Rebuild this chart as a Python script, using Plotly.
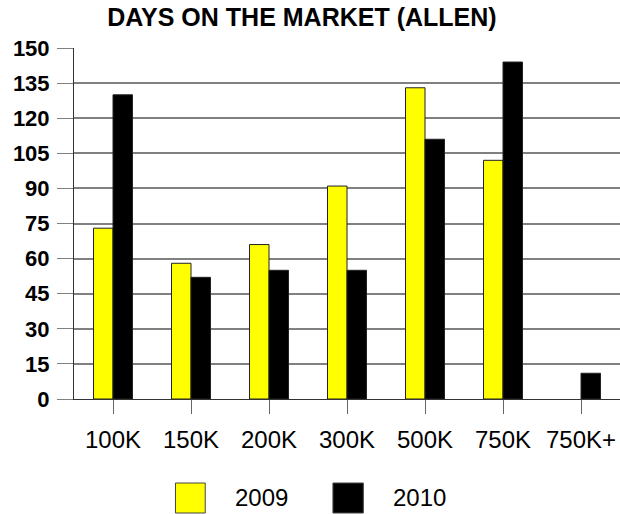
import plotly.graph_objects as go

categories = ["100K", "150K", "200K", "300K", "500K", "750K", "750K+"]
days_2009 = [73, 58, 66, 91, 133, 102, None]
days_2010 = [130, 52, 55, 55, 111, 144, 11]
y_ticks = [0, 15, 30, 45, 60, 75, 90, 105, 120, 135, 150]
series_names = ["2009", "2010"]
series_colors = ["#FFFF00", "#000000"]

FONT = "Liberation Sans, Arial, sans-serif"

fig = go.Figure()
for name, vals, col in zip(series_names, [days_2009, days_2010], series_colors):
    fig.add_trace(go.Bar(
        x=categories, y=vals, name=name,
        marker=dict(color=col, line=dict(color="#222222", width=1)),
        showlegend=False,
    ))

fig.update_layout(
    width=620, height=514,
    margin=dict(l=74, r=0, t=48, b=115),
    paper_bgcolor="white", plot_bgcolor="white",
    barmode="group", bargap=0.5, bargroupgap=0,
    font=dict(family=FONT, color="black"),
    title=dict(text="<b>DAYS ON THE MARKET (ALLEN)</b>", x=0.487, xanchor="center",
               y=0.966, yanchor="middle", font=dict(size=25, family=FONT, color="black")),
    xaxis=dict(
        showline=True, linecolor="#333333", linewidth=1,
        ticks="outside", ticklen=14, tickcolor="#666666", tickwidth=1,
        ticklabelstandoff=5,
        tickfont=dict(size=24, family=FONT, color="black"),
        showgrid=False,
    ),
    yaxis=dict(
        range=[0, 150], tickvals=y_ticks,
        showline=True, linecolor="#333333", linewidth=1,
        showgrid=True, gridcolor="#808080", gridwidth=1.5,
        ticks="outside", ticklen=16, tickcolor="#808080", tickwidth=1,
        tickfont=dict(size=22, family=FONT, color="black", weight="bold"),
        ticklabelstandoff=3,
        zeroline=False,
    ),
)

# legend drawn as paper-space swatches + labels
legend_boxes = [(0.283, 0.331), (0.537, 0.586)]
legend_text_x = [0.421, 0.677]
for (x0, x1), tx, name, col in zip(legend_boxes, legend_text_x, series_names, series_colors):
    fig.add_shape(type="rect", xref="paper", yref="paper",
                  x0=(x0 * 620 - 74) / 546, x1=(x1 * 620 - 74) / 546,
                  y0=-(513 - 399) / 351, y1=-(483 - 399) / 351,
                  fillcolor=col, line=dict(color="#444444", width=1))
    fig.add_annotation(xref="paper", yref="paper",
                       x=(tx * 620 - 74) / 546, y=-(498 - 399) / 351,
                       text=name, showarrow=False, xanchor="center", yanchor="middle",
                       font=dict(size=24, family=FONT, color="black"))

fig.write_html("out.html", config={"displayModeBar": False},
               post_script="document.body.style.margin='0';document.body.style.overflow='hidden';")
